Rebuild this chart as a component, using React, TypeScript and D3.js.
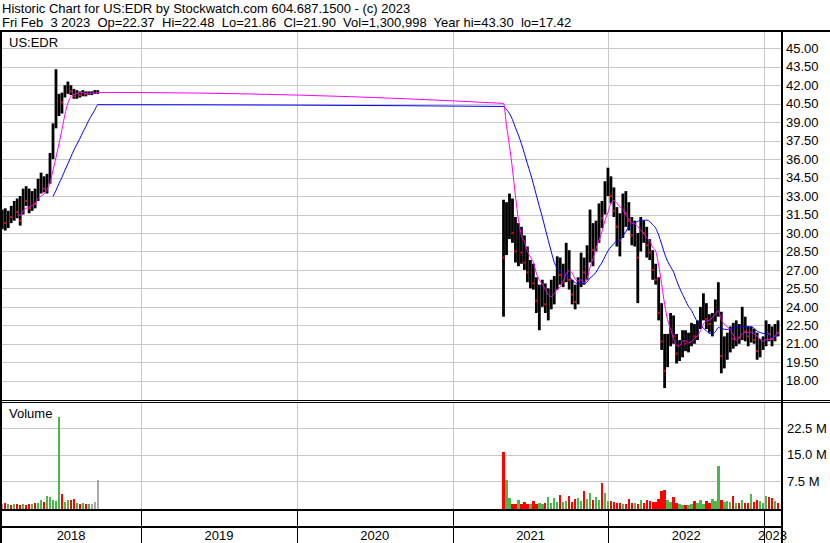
import React, { useEffect, useRef } from 'react';
import * as d3 from 'd3';

const WIDTH = 830;
const HEIGHT = 543;

// weekly bars, first week ending Feb 9 2018 (old EDR listing, ends Sep 2018)
const start2018 = '2018-02-09';
const high2018 = [31.9, 32.0, 31.8, 32.2, 32.6, 32.8, 33.0, 33.6, 33.8, 33.6, 33.4, 33.6, 34.4, 34.9, 34.6, 34.8, 36.5, 38.9, 43.3, 41.3, 41.4, 42.0, 42.3, 42.0, 41.7, 41.6, 41.5, 41.6, 41.5, 41.5, 41.5, 41.6, 41.6];
const low2018 = [30.3, 30.2, 30.4, 30.8, 31.0, 31.2, 30.6, 31.5, 32.2, 31.6, 31.8, 32.0, 32.6, 33.2, 33.3, 33.2, 34.0, 36.0, 38.5, 39.5, 39.7, 41.0, 41.3, 41.2, 40.9, 40.9, 41.0, 41.1, 41.1, 41.2, 41.2, 41.3, 41.3];
const close2018 = [31.2, 30.8, 31.5, 31.3, 32.3, 31.7, 31.0, 33.1, 32.6, 32.0, 33.0, 32.4, 33.8, 34.2, 33.6, 34.3, 36.2, 38.5, 40.0, 40.8, 40.6, 41.6, 41.9, 41.5, 41.1, 41.3, 41.2, 41.4, 41.3, 41.45, 41.45, 41.45, 41.45];
const vol2018 = [0.8, 1.2, 0.9, 0.7, 0.8, 1.0, 0.6, 0.8, 0.7, 0.9, 0.8, 1.1, 1.2, 2.0, 1.6, 3.3, 2.9, 2.0, 1.8, 25.7, 3.8, 1.5, 2.2, 2.0, 2.4, 1.2, 1.0, 1.1, 0.9, 0.8, 0.9, 1.5, 7.9];

// weekly bars after the Apr 29 2021 listing (first week has 2 sessions)
const start2021 = '2021-04-30';
const firstWeekSessions2021 = 2;
const high2021 = [
  32.7, 32.5, 33.2, 32.8, 31.3, 30.8, 30.5, 29.8, 28.9, 27.8,
  27.5, 26.4, 25.8, 26.2, 25.9, 25.5, 26.2, 26.5, 28.1, 28.0,
  27.5, 29.2, 28.6, 26.2, 25.8, 26.4, 28.4, 28.0, 29.0, 31.9,
  30.8, 31.0, 32.4, 32.6, 34.2, 35.3, 34.6, 33.7, 32.1, 31.6,
  33.2, 33.4, 32.5, 31.3, 31.0, 30.0, 31.3, 31.0, 30.5, 29.5,
  28.6, 27.5, 26.4, 24.3, 21.8, 21.8, 23.5, 23.3, 21.8, 21.3,
  22.1, 22.1, 21.9, 22.7, 22.6, 22.9, 24.0, 25.1, 24.3, 23.4,
  23.5, 24.6, 26.0, 23.6, 21.6, 21.9, 22.4, 22.7, 22.9, 22.6,
  24.0, 23.2, 22.4, 22.4, 22.2, 21.9, 21.4, 21.6, 22.9, 22.6,
  22.4, 22.6, 22.9,
];
const low2021 = [
  23.2, 28.2, 29.5, 29.2, 27.6, 27.3, 27.5, 27.0, 26.0, 25.5,
  25.4, 23.5, 22.1, 24.0, 23.5, 22.9, 23.8, 24.2, 25.4, 25.8,
  25.6, 26.0, 25.4, 24.2, 23.8, 24.2, 25.6, 25.8, 26.2, 27.6,
  27.3, 28.5, 29.2, 30.4, 31.5, 33.0, 32.4, 31.3, 28.9, 28.1,
  29.6, 30.5, 30.2, 29.0, 28.9, 24.3, 28.5, 29.2, 28.0, 27.8,
  26.2, 25.8, 22.9, 20.5, 17.4, 19.1, 20.8, 21.0, 19.4, 19.6,
  19.9, 20.4, 20.3, 20.8, 21.0, 21.3, 22.2, 22.9, 22.2, 21.9,
  21.6, 22.8, 23.2, 18.6, 19.0, 19.7, 20.3, 20.6, 20.8, 21.0,
  21.3, 21.2, 20.8, 21.1, 21.0, 19.7, 19.9, 20.5, 20.8, 21.2,
  20.8, 21.2, 21.6,
];
const close2021 = [
  28.0, 30.5, 31.5, 30.0, 28.5, 29.8, 28.4, 27.6, 26.8, 27.2,
  25.9, 24.5, 25.2, 25.5, 24.2, 24.6, 25.0, 26.0, 27.3, 26.6,
  27.0, 28.4, 26.2, 25.0, 24.4, 25.6, 27.6, 26.8, 28.4, 30.5,
  28.6, 30.4, 31.8, 31.2, 33.6, 34.4, 33.0, 31.8, 30.5, 29.4,
  32.5, 31.6, 31.0, 29.8, 30.2, 28.0, 30.6, 30.0, 29.0, 28.4,
  27.0, 26.2, 23.5, 21.2, 18.8, 21.0, 22.4, 21.6, 20.2, 20.8,
  21.4, 21.0, 21.5, 22.2, 21.6, 22.4, 23.5, 24.4, 23.0, 22.6,
  22.9, 24.2, 25.0, 20.0, 20.9, 21.2, 21.8, 21.4, 22.3, 21.5,
  22.6, 22.0, 21.6, 21.8, 21.3, 20.4, 21.0, 21.2, 22.4, 21.8,
  21.4, 22.3, 21.9,
];
// millions of shares
const vol2021 = [
  15.8, 7.9, 2.7, 1.0, 0.8, 2.1, 0.9, 1.6, 0.8, 1.0,
  1.8, 0.9, 1.2, 0.8, 1.1, 2.8, 1.3, 2.6, 1.5, 3.5,
  1.4, 1.8, 3.1, 1.6, 2.3, 2.7, 1.9, 4.7, 2.4, 4.0,
  2.0, 2.9, 2.2, 6.8, 4.0, 1.7, 1.8, 1.4, 1.3, 1.3,
  1.0, 0.9, 2.3, 1.3, 1.2, 1.0, 2.0, 1.2, 2.0, 1.8,
  1.4, 1.6, 2.4, 4.7, 4.9, 2.0, 1.6, 3.0, 1.3, 0.9,
  0.6, 0.6, 0.7, 0.9, 1.8, 1.2, 2.1, 1.0, 1.8, 1.3,
  2.4, 1.8, 11.9, 2.0, 1.6, 1.8, 1.4, 3.3, 1.2, 1.1,
  2.0, 1.3, 1.2, 3.9, 1.5, 2.0, 1.8, 1.3, 3.3, 3.0,
  2.6, 1.8, 1.3,
];

const priceTicks = d3.range(18, 45.01, 1.5);
const volumeTicks = [7.5, 15, 22.5];
const shortMaDays = 30;
const longMaDays = 90;

const headerLine1 = 'Historic Chart for US:EDR by Stockwatch.com 604.687.1500 - (c) 2023';
const headerLine2 = 'Fri Feb  3 2023  Op=22.37  Hi=22.48  Lo=21.86  Cl=21.90  Vol=1,300,998  Year hi=43.30  lo=17.42';

interface Bar {
  date: Date;
  high: number;
  low: number;
  close: number;
  vol: number;
  days: number;
}

const parseDay = d3.timeParse('%Y-%m-%d');

function buildBars(start: string, highs: number[], lows: number[], closes: number[], vols: number[], firstDays: number): Bar[] {
  const s = parseDay(start)!;
  return highs.map((h, i) => ({
    date: d3.timeDay.offset(s, 7 * i),
    high: h,
    low: lows[i],
    close: closes[i],
    vol: vols[i] * 1e6,
    days: i === 0 ? firstDays : 5,
  }));
}

// simple moving average over trading sessions (each weekly bar stands for its sessions)
function movingAverage(bars: Bar[], sessions: number): (number | null)[] {
  return bars.map((_, i) => {
    let need = sessions;
    let sum = 0;
    let j = i;
    while (j >= 0 && need > 0) {
      const take = Math.min(bars[j].days, need);
      sum += bars[j].close * take;
      need -= take;
      j--;
    }
    return need > 0 ? null : sum / sessions;
  });
}

const bars: Bar[] = [
  ...buildBars(start2018, high2018, low2018, close2018, vol2018, 5),
  ...buildBars(start2021, high2021, low2021, close2021, vol2021, firstWeekSessions2021),
];

export default function App() {
  const svgRef = useRef<SVGSVGElement>(null);

  useEffect(() => {
    if (!svgRef.current) return;
    const svg = d3.select(svgRef.current);
    svg.selectAll('*').remove();

    const plotL = 1;
    const plotR = 782;
    const priceTop = 31;
    const priceBottom = 400;
    const volTop = 402;
    const volBottom = 509.5;
    const axisMid = 527;

    const x = d3.scaleTime()
      .domain([new Date(2018, 1, 6), new Date(2023, 1, 10)])
      .range([plotL, 781]);
    const y = d3.scaleLinear().domain([18, 45]).range([380.7, 48.3]);
    const yv = d3.scaleLinear().domain([0, 7.5e6]).range([507.3, 481]);

    const font = '"Liberation Sans", Arial, sans-serif';
    const grid = '#c8c8c8';

    svg.append('rect').attr('width', WIDTH).attr('height', HEIGHT).attr('fill', '#fff');

    const defs = svg.append('defs');
    defs.append('clipPath').attr('id', 'clip-price')
      .append('rect').attr('x', plotL).attr('y', priceTop).attr('width', plotR - plotL).attr('height', priceBottom - priceTop);
    defs.append('clipPath').attr('id', 'clip-vol')
      .append('rect').attr('x', plotL).attr('y', volTop).attr('width', plotR - plotL).attr('height', volBottom - volTop);

    const years = x.ticks(d3.timeYear.every(1)).filter(d => x(d) > plotL + 2);

    // grid
    const g = svg.append('g').attr('shape-rendering', 'crispEdges');
    priceTicks.forEach(t => {
      g.append('line').attr('x1', plotL).attr('x2', plotR)
        .attr('y1', Math.round(y(t)) + 0.5).attr('y2', Math.round(y(t)) + 0.5)
        .attr('stroke', grid);
    });
    volumeTicks.forEach(t => {
      g.append('line').attr('x1', plotL).attr('x2', plotR)
        .attr('y1', Math.round(yv(t * 1e6)) + 0.5).attr('y2', Math.round(yv(t * 1e6)) + 0.5)
        .attr('stroke', grid);
    });
    years.forEach(d => {
      const xx = Math.round(x(d)) + 0.5;
      g.append('line').attr('x1', xx).attr('x2', xx).attr('y1', priceTop).attr('y2', priceBottom).attr('stroke', grid);
      g.append('line').attr('x1', xx).attr('x2', xx).attr('y1', volTop).attr('y2', volBottom).attr('stroke', grid);
      g.append('line').attr('x1', xx).attr('x2', xx).attr('y1', volBottom).attr('y2', HEIGHT).attr('stroke', '#000');
    });

    // volume bars
    const vg = svg.append('g').attr('clip-path', 'url(#clip-vol)').attr('shape-rendering', 'crispEdges');
    bars.forEach((b, i) => {
      const prev = i > 0 ? bars[i - 1].close : b.close;
      const color = b.close > prev ? '#4cb84c' : b.close < prev ? '#ff0000' : '#a8a8a8';
      vg.append('rect')
        .attr('x', x(b.date) - 1.2)
        .attr('width', 2.4)
        .attr('y', yv(b.vol))
        .attr('height', yv(0) - yv(b.vol) + 2)
        .attr('fill', color);
    });

    // price bars (weekly high-low ranges, red marks on down closes)
    const pg = svg.append('g').attr('clip-path', 'url(#clip-price)');
    bars.forEach(b => {
      const cx = x(b.date);
      pg.append('rect')
        .attr('x', cx - 1.4)
        .attr('width', 2.8)
        .attr('y', y(b.high))
        .attr('height', Math.max(1, y(b.low) - y(b.high)))
        .attr('fill', '#000');
    });
    bars.forEach((b, i) => {
      if (i > 0 && b.close < bars[i - 1].close) {
        pg.append('rect')
          .attr('x', x(b.date) - 1)
          .attr('width', 2)
          .attr('y', y(b.close) - 1)
          .attr('height', 2)
          .attr('fill', '#ff0000');
      }
    });

    // moving averages
    const drawMa = (sessions: number, color: string) => {
      const ma = movingAverage(bars, sessions);
      const line = d3.line<[Date, number | null]>()
        .defined(d => d[1] !== null)
        .x(d => x(d[0]))
        .y(d => y(d[1] as number))
        .curve(d3.curveMonotoneX);
      pg.append('path')
        .datum(bars.map((b, i) => [b.date, ma[i]] as [Date, number | null]))
        .attr('d', line)
        .attr('fill', 'none')
        .attr('stroke', color)
        .attr('stroke-width', 1);
    };
    drawMa(longMaDays, '#0000ff');
    drawMa(shortMaDays, '#ff00ff');

    // frame
    const f = svg.append('g').attr('shape-rendering', 'crispEdges').attr('stroke', '#000');
    f.append('line').attr('x1', 0).attr('x2', WIDTH).attr('y1', priceTop).attr('y2', priceTop).attr('stroke-width', 2);
    f.append('line').attr('x1', 0).attr('x2', WIDTH).attr('y1', priceBottom + 0.5).attr('y2', priceBottom + 0.5);
    f.append('line').attr('x1', 0).attr('x2', WIDTH).attr('y1', volTop + 0.5).attr('y2', volTop + 0.5);
    f.append('line').attr('x1', 0).attr('x2', plotR).attr('y1', volBottom).attr('y2', volBottom).attr('stroke-width', 2);
    f.append('line').attr('x1', 0).attr('x2', plotR).attr('y1', axisMid).attr('y2', axisMid).attr('stroke-width', 2);
    f.append('line').attr('x1', 1).attr('x2', 1).attr('y1', priceTop).attr('y2', HEIGHT).attr('stroke-width', 2);
    f.append('line').attr('x1', plotR).attr('x2', plotR).attr('y1', priceTop).attr('y2', HEIGHT).attr('stroke-width', 2);

    // text
    const txt = svg.append('g').attr('font-family', font).attr('font-size', 13).attr('fill', '#000');
    txt.append('text').attr('x', 2).attr('y', 13).text(headerLine1);
    txt.append('text').attr('x', 2).attr('y', 27).style('white-space', 'pre').text(headerLine2);
    txt.append('text').attr('x', 9).attr('y', 47).text('US:EDR');
    txt.append('text').attr('x', 9).attr('y', 418).text('Volume');

    priceTicks.forEach(t => {
      txt.append('text').attr('x', 786).attr('y', y(t)).attr('dy', '0.36em').text(t.toFixed(2));
    });
    volumeTicks.forEach(t => {
      txt.append('text').attr('x', 787).attr('y', yv(t * 1e6)).attr('dy', '0.36em').text(`${t.toFixed(1)} M`);
    });

    // year labels centred in each year's band
    const edges = [x.domain()[0], ...years, x.domain()[1]];
    const fmtYear = d3.timeFormat('%Y');
    for (let i = 0; i < edges.length - 1; i++) {
      const mid = (x(edges[i]) + x(edges[i + 1])) / 2;
      txt.append('text')
        .attr('x', mid)
        .attr('y', 540)
        .attr('text-anchor', 'middle')
        .text(fmtYear(edges[i]));
    }
  }, []);

  return (
    <svg
      ref={svgRef}
      width={WIDTH}
      height={HEIGHT}
      style={{ position: 'fixed', left: 0, top: 0, display: 'block' }}
    />
  );
}
